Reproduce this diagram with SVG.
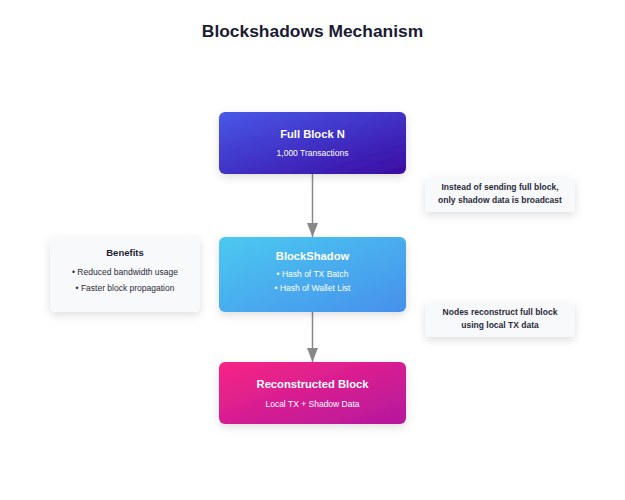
<svg xmlns="http://www.w3.org/2000/svg" width="625" height="500" viewBox="0 0 625 500">
<defs>
<linearGradient id="gBlue" x1="0" y1="0" x2="1" y2="1"><stop offset="0" stop-color="#4858e8"/><stop offset="1" stop-color="#3a0ca3"/></linearGradient>
<linearGradient id="gSky" x1="0" y1="0" x2="1" y2="1"><stop offset="0" stop-color="#4cc9f0"/><stop offset="1" stop-color="#4590ec"/></linearGradient>
<linearGradient id="gPink" x1="0" y1="0" x2="1" y2="1"><stop offset="0" stop-color="#f72585"/><stop offset="1" stop-color="#b5179e"/></linearGradient>
<filter id="sh" x="-20%" y="-30%" width="140%" height="170%"><feDropShadow dx="0" dy="3" stdDeviation="4" flood-color="#000" flood-opacity="0.13"/></filter>
<marker id="arr" markerWidth="14" markerHeight="11" refX="14" refY="5.5" orient="auto" markerUnits="userSpaceOnUse"><path d="M0,0 L14,5.5 L0,11 Z" fill="#888"/></marker>
<style>
text{font-family:"Liberation Sans",Arial,sans-serif;text-anchor:middle}
.title{font-size:17.4px;font-weight:bold;fill:#1b1b33}
.nh{font-size:11.2px;font-weight:bold;fill:#fff}
.ns{font-size:8.5px;fill:#fff}
.card{fill:#f8f9fb}
.ch{font-size:9.5px;font-weight:bold;fill:#1b1b33}
.cs{font-size:8.5px;fill:#2a2a3a}
.nt{font-size:8.5px;font-weight:bold;fill:#2a2a3a}
.conn{stroke:#888;stroke-width:1.5;fill:none}
</style>
</defs>
<rect width="625" height="500" fill="#fff"/>
<text class="title" x="312.5" y="37">Blockshadows Mechanism</text>
<g id="connectors">
<line class="conn" x1="312.5" y1="174" x2="312.5" y2="237" marker-end="url(#arr)"/>
<line class="conn" x1="312.5" y1="312" x2="312.5" y2="362" marker-end="url(#arr)"/>
</g>
<g id="full-block">
<rect x="219" y="112" width="187" height="62" rx="6" fill="url(#gBlue)" filter="url(#sh)"/>
<text class="nh" x="312.5" y="137.5">Full Block N</text>
<text class="ns" x="312.5" y="156">1,000 Transactions</text>
</g>
<g id="blockshadow">
<rect x="219" y="237" width="187" height="75" rx="6" fill="url(#gSky)" filter="url(#sh)"/>
<text class="nh" x="312.5" y="260">BlockShadow</text>
<text class="ns" x="312.5" y="277.3">• Hash of TX Batch</text>
<text class="ns" x="312.5" y="290.7">• Hash of Wallet List</text>
</g>
<g id="reconstructed">
<rect x="219" y="362" width="187" height="62" rx="6" fill="url(#gPink)" filter="url(#sh)"/>
<text class="nh" x="312.5" y="387.7">Reconstructed Block</text>
<text class="ns" x="312.5" y="406.5">Local TX + Shadow Data</text>
</g>
<g id="benefits">
<rect class="card" x="50" y="237" width="150" height="75" rx="5" filter="url(#sh)"/>
<text class="ch" x="125" y="256">Benefits</text>
<text class="cs" x="125" y="275">• Reduced bandwidth usage</text>
<text class="cs" x="125" y="290.5">• Faster block propagation</text>
</g>
<g id="note-broadcast">
<rect class="card" x="425" y="178" width="150" height="34" rx="4" filter="url(#sh)"/>
<text class="nt" x="500" y="190">Instead of sending full block,</text>
<text class="nt" x="500" y="203.3">only shadow data is broadcast</text>
</g>
<g id="note-reconstruct">
<rect class="card" x="425" y="303" width="150" height="34" rx="4" filter="url(#sh)"/>
<text class="nt" x="500" y="315">Nodes reconstruct full block</text>
<text class="nt" x="500" y="328.3">using local TX data</text>
</g>
</svg>
